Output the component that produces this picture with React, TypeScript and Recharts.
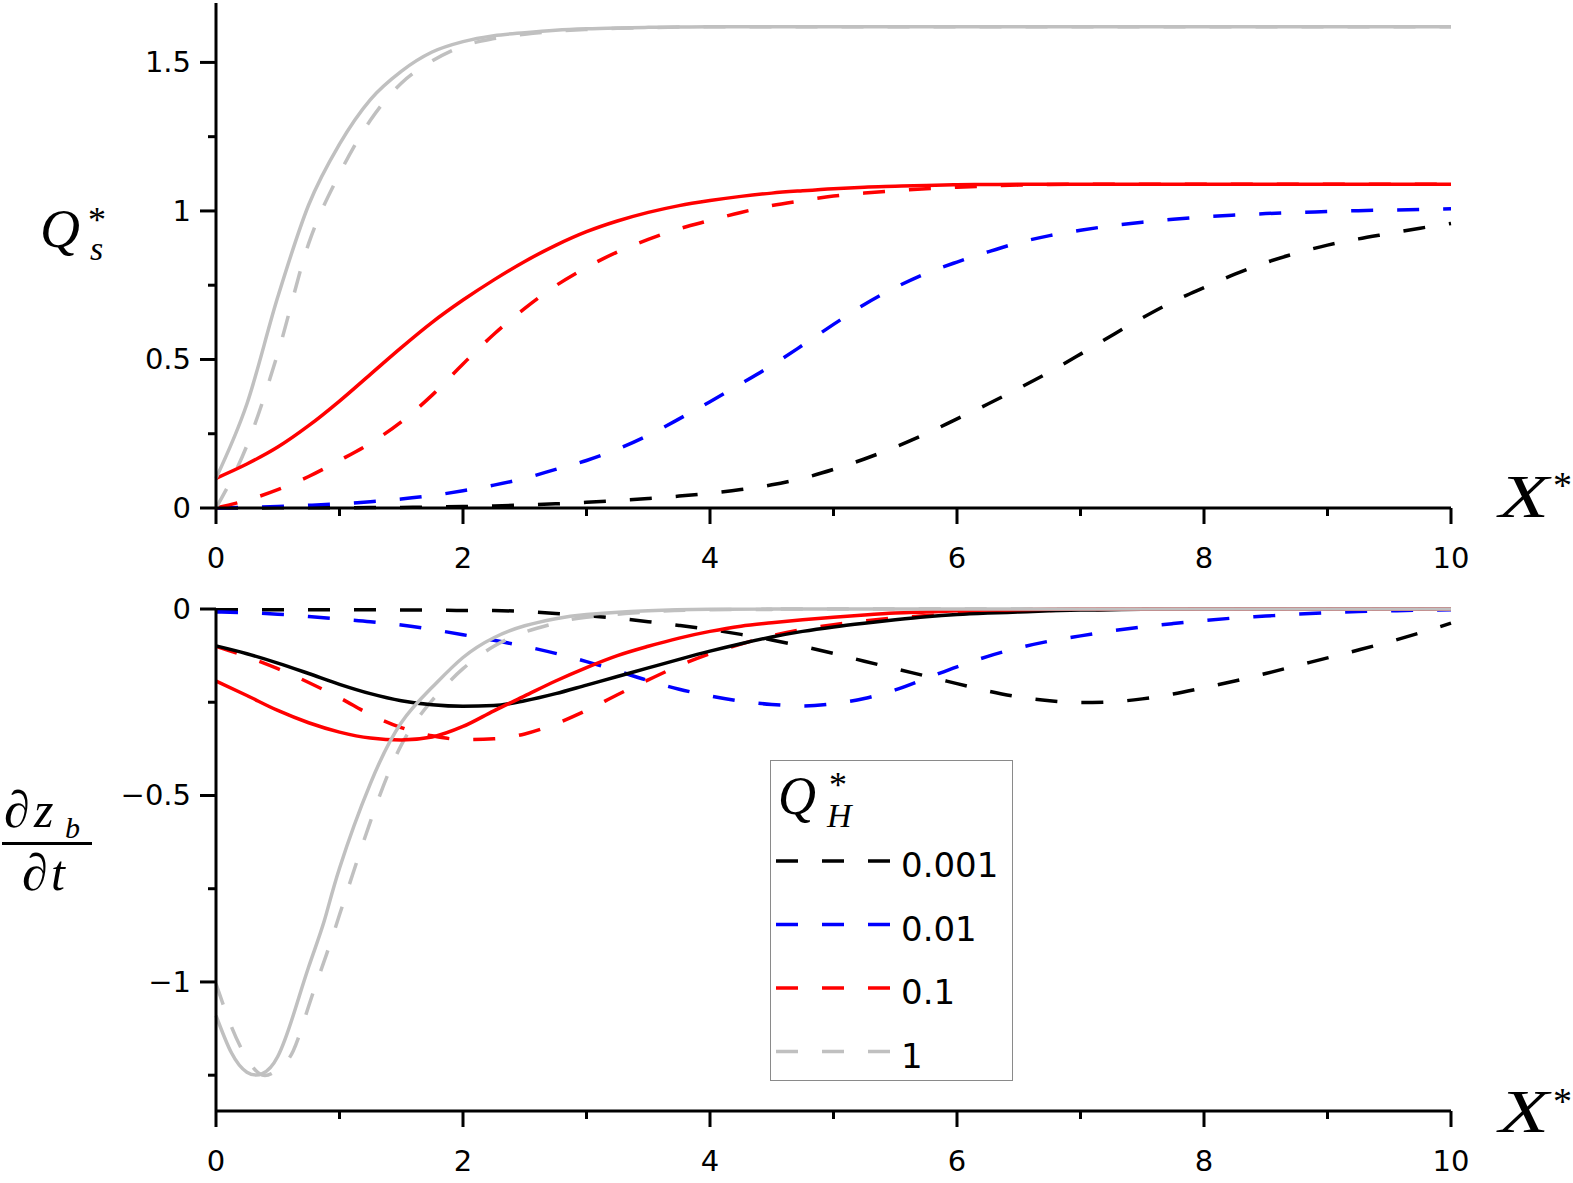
import React from "react";
import { LineChart, Line, XAxis, YAxis, Legend } from "recharts";

// sample positions along X* (every 0.25)
const xStar = [0, 0.25, 0.5, 0.75, 1, 1.25, 1.5, 1.75, 2, 2.25, 2.5, 2.75, 3, 3.25, 3.5, 3.75, 4, 4.25, 4.5, 4.75, 5, 5.25, 5.5, 5.75, 6, 6.25, 6.5, 6.75, 7, 7.25, 7.5, 7.75, 8, 8.25, 8.5, 8.75, 9, 9.25, 9.5, 9.75, 10];
// finer sampling for the steep grey curves of the lower panel
const xGrey = [0, 0.125, 0.25, 0.375, 0.5, 0.625, 0.75, 0.875, 1, 1.25, 1.5, 1.75, 2, 2.25, 2.5, 2.75, 3, 3.5, 4, 4.5, 5, 10];

// top panel: Qs*
const qsBlackDash = [0, 0.0003, 0.0005, 0.0008, 0.001, 0.0015, 0.002, 0.003, 0.005, 0.007, 0.01, 0.014, 0.019, 0.025, 0.032, 0.04, 0.05, 0.062, 0.078, 0.1, 0.13, 0.165, 0.205, 0.25, 0.3, 0.35, 0.403, 0.458, 0.518, 0.58, 0.64, 0.695, 0.742, 0.787, 0.826, 0.858, 0.885, 0.906, 0.924, 0.942, 0.958];
const qsBlueDash = [0, 0.002, 0.005, 0.009, 0.014, 0.021, 0.03, 0.042, 0.058, 0.077, 0.1, 0.13, 0.16, 0.198, 0.245, 0.3, 0.358, 0.418, 0.48, 0.548, 0.618, 0.685, 0.742, 0.79, 0.828, 0.862, 0.893, 0.917, 0.935, 0.95, 0.962, 0.972, 0.98, 0.986, 0.991, 0.995, 0.998, 1.001, 1.003, 1.005, 1.007];
const qsRedDash = [0, 0.026, 0.062, 0.106, 0.16, 0.218, 0.29, 0.38, 0.485, 0.585, 0.672, 0.748, 0.81, 0.862, 0.904, 0.94, 0.968, 0.995, 1.018, 1.035, 1.05, 1.06, 1.068, 1.075, 1.08, 1.084, 1.087, 1.089, 1.09, 1.09, 1.09, 1.09, 1.09, 1.09, 1.09, 1.09, 1.09, 1.09, 1.09, 1.09, 1.09];
const qsGreyDash = [0, 0.21, 0.52, 0.89, 1.125, 1.305, 1.43, 1.505, 1.555, 1.58, 1.595, 1.605, 1.611, 1.615, 1.617, 1.619, 1.62, 1.62, 1.62, 1.62, 1.62, 1.62, 1.62, 1.62, 1.62, 1.62, 1.62, 1.62, 1.62, 1.62, 1.62, 1.62, 1.62, 1.62, 1.62, 1.62, 1.62, 1.62, 1.62, 1.62, 1.62];
const qsRedSolid = [0.1, 0.148, 0.205, 0.277, 0.36, 0.45, 0.54, 0.625, 0.7, 0.768, 0.83, 0.884, 0.93, 0.966, 0.995, 1.018, 1.035, 1.049, 1.06, 1.068, 1.075, 1.08, 1.083, 1.086, 1.088, 1.089, 1.09, 1.09, 1.09, 1.09, 1.09, 1.09, 1.09, 1.09, 1.09, 1.09, 1.09, 1.09, 1.09, 1.09, 1.09];
const qsGreySolid = [0.1, 0.35, 0.71, 1.02, 1.225, 1.375, 1.47, 1.535, 1.57, 1.59, 1.6, 1.608, 1.613, 1.616, 1.618, 1.619, 1.62, 1.62, 1.62, 1.62, 1.62, 1.62, 1.62, 1.62, 1.62, 1.62, 1.62, 1.62, 1.62, 1.62, 1.62, 1.62, 1.62, 1.62, 1.62, 1.62, 1.62, 1.62, 1.62, 1.62, 1.62];

// bottom panel: dz_b/dt
const dzBlackDash = [-0.002, -0.002, -0.002, -0.002, -0.002, -0.002, -0.003, -0.003, -0.004, -0.004, -0.007, -0.012, -0.018, -0.025, -0.034, -0.044, -0.055, -0.068, -0.083, -0.1, -0.119, -0.14, -0.16, -0.18, -0.2, -0.22, -0.236, -0.246, -0.251, -0.249, -0.241, -0.228, -0.211, -0.193, -0.173, -0.152, -0.131, -0.11, -0.088, -0.064, -0.038];
const dzBlueDash = [-0.008, -0.01, -0.014, -0.02, -0.027, -0.034, -0.043, -0.055, -0.069, -0.084, -0.1, -0.119, -0.141, -0.166, -0.192, -0.215, -0.233, -0.247, -0.256, -0.26, -0.254, -0.24, -0.217, -0.186, -0.155, -0.127, -0.104, -0.086, -0.072, -0.059, -0.048, -0.039, -0.031, -0.024, -0.019, -0.014, -0.01, -0.007, -0.005, -0.003, -0.002];
const dzRedDash = [-0.1, -0.128, -0.16, -0.197, -0.238, -0.283, -0.318, -0.34, -0.35, -0.348, -0.335, -0.308, -0.272, -0.23, -0.19, -0.152, -0.12, -0.094, -0.072, -0.055, -0.042, -0.032, -0.024, -0.018, -0.013, -0.009, -0.006, -0.004, -0.002, -0.001, 0, 0, 0, 0, 0, 0, 0, 0, 0, 0, 0];
const dzBlackSolid = [-0.099, -0.12, -0.145, -0.173, -0.202, -0.227, -0.246, -0.257, -0.261, -0.259, -0.246, -0.227, -0.204, -0.181, -0.158, -0.135, -0.113, -0.093, -0.075, -0.06, -0.048, -0.038, -0.029, -0.021, -0.015, -0.011, -0.008, -0.005, -0.003, -0.002, -0.001, -0.001, 0, 0, 0, 0, 0, 0, 0, 0, 0];
const dzRedSolid = [-0.193, -0.232, -0.272, -0.305, -0.33, -0.346, -0.351, -0.343, -0.315, -0.273, -0.233, -0.193, -0.157, -0.125, -0.1, -0.078, -0.06, -0.046, -0.037, -0.029, -0.022, -0.016, -0.011, -0.008, -0.005, -0.003, -0.002, -0.001, 0, 0, 0, 0, 0, 0, 0, 0, 0, 0, 0, 0, 0];
const dzGreyDash = [-1.005, -1.12, -1.205, -1.25, -1.235, -1.185, -1.065, -0.945, -0.82, -0.57, -0.365, -0.245, -0.16, -0.1, -0.062, -0.038, -0.022, -0.008, -0.002, -0.001, 0, 0];
const dzGreySolid = [-1.09, -1.19, -1.242, -1.246, -1.2, -1.09, -0.96, -0.838, -0.695, -0.468, -0.305, -0.21, -0.13, -0.077, -0.045, -0.026, -0.015, -0.005, -0.001, 0, 0, 0];

const xTicks = [0, 1, 2, 3, 4, 5, 6, 7, 8, 9, 10];
const qsTicks = [0, 0.25, 0.5, 0.75, 1, 1.25, 1.5];
const dzTicks = [0, -0.25, -0.5, -0.75, -1, -1.25];
const qhLabels = ["0.001", "0.01", "0.1", "1"];

const BLACK = "#000000";
const BLUE = "#0000ff";
const RED = "#ff0000";
const GREY = "#c0c0c0";
const DASH = "22 24";
const LW = 3.5;
const TICK_FONT = "DejaVu Sans";
const MATH_FONT = "Liberation Serif";

const topData = xStar.map((x, i) => ({
  x,
  blackDash: qsBlackDash[i],
  blueDash: qsBlueDash[i],
  redDash: qsRedDash[i],
  greyDash: qsGreyDash[i],
  redSolid: qsRedSolid[i],
  greySolid: qsGreySolid[i],
}));

const bottomData = xStar.map((x, i) => ({
  x,
  blackDash: dzBlackDash[i],
  blueDash: dzBlueDash[i],
  redDash: dzRedDash[i],
  blackSolid: dzBlackSolid[i],
  redSolid: dzRedSolid[i],
}));

const greyData = xGrey.map((x, i) => ({ x, greyDash: dzGreyDash[i], greySolid: dzGreySolid[i] }));

const fmt = (v: number) => (v < 0 ? "\u2212" + String(-v) : String(v));

const XTick = ({ x, y, payload }: any) => {
  const major = payload.value % 2 === 0;
  return (
    <g>
      <line x1={x} x2={x} y1={y} y2={y + (major ? 16 : 8)} stroke="#000" strokeWidth={3} />
      {major && (
        <text x={x} y={y + 60} textAnchor="middle" fontFamily={TICK_FONT} fontSize={29} fill="#000">
          {payload.value}
        </text>
      )}
    </g>
  );
};

const YTick = ({ x, y, payload }: any) => {
  const v = payload.value;
  const major = Math.abs(v * 2 - Math.round(v * 2)) < 1e-6;
  return (
    <g>
      <line x1={x - (major ? 16 : 8)} x2={x} y1={y} y2={y} stroke="#000" strokeWidth={3} />
      {major && (
        <text x={x - 25} y={y + 10} textAnchor="end" fontFamily={TICK_FONT} fontSize={29} fill="#000">
          {fmt(v)}
        </text>
      )}
    </g>
  );
};

const QhLegend = ({ payload }: any) => (
  <div style={{ width: 243, height: 321, border: "1.5px solid #8a8a8a", boxSizing: "border-box", background: "#fff" }}>
    <svg width={240} height={318} style={{ display: "block" }}>
      <text x={7} y={53} fontFamily={MATH_FONT} fontStyle="italic" fontSize={54} textLength={38} lengthAdjust="spacingAndGlyphs">Q</text>
      <text x={58} y={36} fontFamily={MATH_FONT} fontSize={36}>*</text>
      <text x={56} y={66} fontFamily={MATH_FONT} fontStyle="italic" fontSize={34}>H</text>
      {(payload || []).map((p: any, i: number) => {
        const ly = 100 + i * 63.5;
        return (
          <g key={p.value}>
            <line x1={5} x2={119} y1={ly} y2={ly} stroke={p.color} strokeWidth={LW} strokeDasharray={DASH} />
            <text x={130} y={ly + 16} fontFamily={TICK_FONT} fontSize={34} fill="#000">
              {p.value}
            </text>
          </g>
        );
      })}
    </svg>
  </div>
);

const axisLine = { stroke: "#000", strokeWidth: 3 };

export default function App() {
  return (
    <div style={{ position: "absolute", left: 0, top: 0, width: 1573, height: 1183, background: "#fff", overflow: "hidden" }}>
      <div style={{ position: "absolute", left: 0, top: 0 }}>
        <LineChart width={1573} height={610} data={topData} margin={{ top: 3, right: 122, left: 0, bottom: 0 }}>
          <XAxis dataKey="x" type="number" domain={[0, 10]} ticks={xTicks} height={102} axisLine={axisLine} tickLine={false} tickSize={0} tickMargin={0} tick={<XTick />} interval={0} />
          <YAxis type="number" domain={[0, 1.7]} ticks={qsTicks} width={216} axisLine={axisLine} tickLine={false} tickSize={0} tickMargin={0} tick={<YTick />} interval={0} />
          <Line dataKey="blackDash" type="monotone" stroke={BLACK} strokeWidth={LW} strokeDasharray={DASH} dot={false} isAnimationActive={false} />
          <Line dataKey="blueDash" type="monotone" stroke={BLUE} strokeWidth={LW} strokeDasharray={DASH} dot={false} isAnimationActive={false} />
          <Line dataKey="redDash" type="monotone" stroke={RED} strokeWidth={LW} strokeDasharray={DASH} dot={false} isAnimationActive={false} />
          <Line dataKey="greyDash" type="monotone" stroke={GREY} strokeWidth={LW} strokeDasharray={DASH} dot={false} isAnimationActive={false} />
          <Line dataKey="redSolid" type="monotone" stroke={RED} strokeWidth={LW} dot={false} isAnimationActive={false} />
          <Line dataKey="greySolid" type="monotone" stroke={GREY} strokeWidth={LW} dot={false} isAnimationActive={false} />
        </LineChart>
      </div>
      <div style={{ position: "absolute", left: 0, top: 570 }}>
        <LineChart width={1573} height={613} data={bottomData} margin={{ top: 39, right: 122, left: 0, bottom: 0 }}>
          <XAxis dataKey="x" type="number" domain={[0, 10]} ticks={xTicks} height={72} axisLine={axisLine} tickLine={false} tickSize={0} tickMargin={0} tick={<XTick />} interval={0} allowDuplicatedCategory={false} />
          <YAxis type="number" domain={[-1.346, 0]} ticks={dzTicks} width={216} axisLine={axisLine} tickLine={false} tickSize={0} tickMargin={0} tick={<YTick />} interval={0} />
          <Legend layout="vertical" align="center" verticalAlign="middle" content={<QhLegend />} wrapperStyle={{ position: "absolute", left: 770, top: 190, width: 243, height: 321 }} />
          <Line name={qhLabels[0]} dataKey="blackDash" type="monotone" stroke={BLACK} strokeWidth={LW} strokeDasharray={DASH} dot={false} isAnimationActive={false} />
          <Line name={qhLabels[1]} dataKey="blueDash" type="monotone" stroke={BLUE} strokeWidth={LW} strokeDasharray={DASH} dot={false} isAnimationActive={false} />
          <Line name={qhLabels[2]} dataKey="redDash" type="monotone" stroke={RED} strokeWidth={LW} strokeDasharray={DASH} dot={false} isAnimationActive={false} />
          <Line name={qhLabels[3]} data={greyData} dataKey="greyDash" type="natural" stroke={GREY} strokeWidth={LW} strokeDasharray={DASH} dot={false} isAnimationActive={false} />
          <Line dataKey="blackSolid" legendType="none" type="monotone" stroke={BLACK} strokeWidth={LW} dot={false} isAnimationActive={false} />
          <Line dataKey="redSolid" legendType="none" type="monotone" stroke={RED} strokeWidth={LW} dot={false} isAnimationActive={false} />
          <Line data={greyData} dataKey="greySolid" legendType="none" type="natural" stroke={GREY} strokeWidth={LW} dot={false} isAnimationActive={false} />
        </LineChart>
      </div>
      <svg width={1573} height={1183} style={{ position: "absolute", left: 0, top: 0, pointerEvents: "none" }}>
        <g fontFamily={MATH_FONT} fill="#000">
          {/* Qs* */}
          <text x={40} y={247} fontStyle="italic" fontSize={54} textLength={40} lengthAdjust="spacingAndGlyphs">Q</text>
          <text x={88} y={232} fontSize={36}>*</text>
          <text x={90} y={260} fontStyle="italic" fontSize={34}>s</text>
          {/* X* top */}
          <text x={1499} y={517} fontStyle="italic" fontSize={62} textLength={50} lengthAdjust="spacingAndGlyphs">X</text>
          <text x={1553} y={498} fontSize={38}>*</text>
          {/* X* bottom */}
          <text x={1499} y={1132} fontStyle="italic" fontSize={62} textLength={50} lengthAdjust="spacingAndGlyphs">X</text>
          <text x={1553} y={1114} fontSize={38}>*</text>
          {/* dz_b / dt */}
          <text x={4} y={827} fontStyle="italic" fontSize={52}>{"\u2202"}</text>
          <text x={34} y={827} fontStyle="italic" fontSize={50}>z</text>
          <text x={65} y={838} fontStyle="italic" fontSize={30}>b</text>
          <line x1={2} x2={92} y1={843.5} y2={843.5} stroke="#000" strokeWidth={3} />
          <text x={22} y={890} fontStyle="italic" fontSize={52}>{"\u2202"}</text>
          <text x={51} y={890} fontStyle="italic" fontSize={50}>t</text>
        </g>
      </svg>
    </div>
  );
}
